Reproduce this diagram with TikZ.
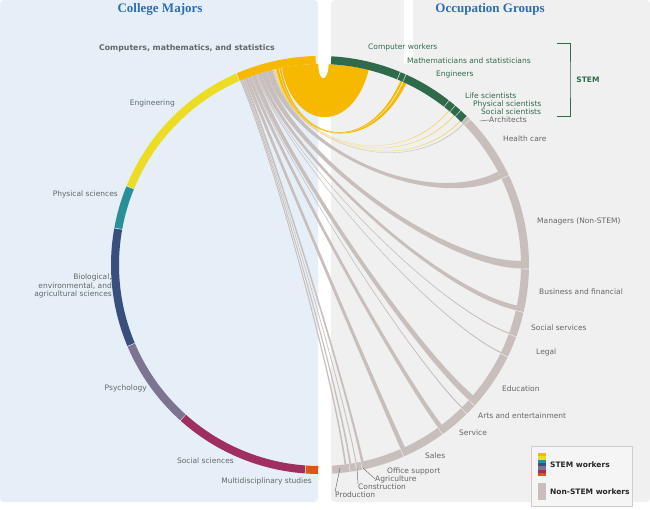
\documentclass[tikz,border=0pt]{standalone}
\usepackage{fontspec}
\setmainfont{DejaVu Sans}
\newfontfamily\hdfont{Liberation Serif}
\begin{document}
\begin{tikzpicture}[x=1pt,y=1pt,
  lab/.style={font=\fontsize{7.5}{8.6}\selectfont, text=black!60, inner sep=0pt},
  slab/.style={font=\fontsize{7.5}{8.6}\selectfont, text=stemg, inner sep=0pt},
  hd/.style={font=\hdfont\bfseries\fontsize{13}{14}\selectfont, text=hdblue, inner sep=0pt},
  seg/.style={line width=8pt},
  lead/.style={draw=black!55, line width=0.5pt}]
\definecolor{hdblue}{HTML}{2E6DB4}
\definecolor{stemg}{HTML}{2F6B4A}
\definecolor{gch}{HTML}{C8BFBC}
\definecolor{cyel}{HTML}{F7B800}
\definecolor{ceng}{HTML}{ECDD24}
\definecolor{cphy}{HTML}{2A9098}
\definecolor{cbio}{HTML}{3B4F7D}
\definecolor{cpsy}{HTML}{7C7490}
\definecolor{csoc}{HTML}{9E2F5E}
\definecolor{cmul}{HTML}{E2540F}
\definecolor{lyel}{HTML}{F5D35A}
\definecolor{lpan}{HTML}{E6EFF8}
\useasboundingbox (0,0) rectangle (650,509);
\fill[white] (0,0) rectangle (650,509);
\fill[lpan, rounded corners=4pt] (0,7) rectangle (318,509);
\fill[black!6, rounded corners=4pt] (331,7) rectangle (650,509);
\node[hd] (hmaj) at (160,500) {College Majors};
\node[hd] (hocc) at (490,500) {Occupation Groups};
\newcommand\chd[5]{\fill[#5] (#1:201) arc[start angle=#1,end angle=#2,radius=201] .. controls (#2:120) and (#3:120) .. (#3:201) arc[start angle=#3,end angle=#4,radius=201] .. controls (#4:120) and (#1:120) .. cycle;}
\begin{scope}[shift={(320,244)}]
% big self-adjacent chord
\fill[cyel] (90.5:201) arc[start angle=90.5,end angle=101,radius=201] .. controls (101:135) and (76:135) .. (76:201) arc[start angle=76,end angle=87.5,radius=201] .. controls (87.5:182) and (90.5:182) .. cycle;
\fill[white] (89:201) circle[radius=5];
\fill[white] (84,201) rectangle (92.5,270);
% chords
\chd{101.2}{101.7}{65.8}{66.4}{cyel}
\chd{101.9}{102.6}{64.6}{65.5}{cyel}
\chd{102.7}{102.85}{50}{50.2}{lyel}
\chd{102.95}{103.1}{48}{48.2}{lyel}
\chd{103.2}{103.35}{45.6}{45.8}{lyel}
\chd{103.45}{103.6}{44.4}{44.6}{gch}
\chd{103.7}{105.3}{25.5}{27.7}{gch}
\chd{105.35}{106.95}{-1}{1.2}{gch}
\chd{107}{108}{-13}{-11.6}{gch}
\chd{108.05}{108.25}{-20}{-19.7}{gch}
\chd{108.3}{108.5}{-26}{-25.7}{gch}
\chd{108.55}{109.8}{-42.2}{-40.4}{gch}
\chd{109.85}{110.05}{-45.3}{-45.0}{gch}
\chd{110.1}{111}{-54}{-52.7}{gch}
\chd{111.05}{111.95}{-66.3}{-65}{gch}
\chd{112}{112.5}{-78.2}{-77.5}{gch}
\chd{112.55}{112.75}{-79.8}{-79.5}{gch}
\chd{112.8}{113.1}{-81.6}{-81.1}{gch}
\chd{113.15}{113.45}{-83}{-82.5}{gch}
% left ring
\draw[seg,cyel] (91.2:205) arc[start angle=91.2,end angle=113.5,radius=205];
\draw[seg,ceng] (113.7:205) arc[start angle=113.7,end angle=157.7,radius=205];
\draw[seg,cphy] (157.9:205) arc[start angle=157.9,end angle=169.7,radius=205];
\draw[seg,cbio] (169.9:205) arc[start angle=169.9,end angle=202.8,radius=205];
\draw[seg,cpsy] (203:205) arc[start angle=203,end angle=228,radius=205];
\draw[seg,csoc] (228.2:205) arc[start angle=228.2,end angle=265.8,radius=205];
\draw[seg,cmul] (266:205) arc[start angle=266,end angle=269.5,radius=205];
% right ring
\draw[seg,stemg] (86.9:205) arc[start angle=86.9,end angle=67.5,radius=205];
\draw[seg,stemg] (67.3:205) arc[start angle=67.3,end angle=65.8,radius=205];
\draw[seg,stemg] (65.6:205) arc[start angle=65.6,end angle=52,radius=205];
\draw[seg,stemg] (51.8:205) arc[start angle=51.8,end angle=49.8,radius=205];
\draw[seg,stemg] (49.6:205) arc[start angle=49.6,end angle=47.8,radius=205];
\draw[seg,stemg] (47.6:205) arc[start angle=47.6,end angle=45.4,radius=205];
\draw[seg,gch] (45.2:205) arc[start angle=45.2,end angle=44.2,radius=205];
\foreach \a/\b in {44/25.5, 25.3/-1, -1.2/-13, -13.2/-20, -20.2/-26, -26.2/-42.2, -42.4/-45.3, -45.5/-54, -54.2/-66.3, -66.5/-78.2, -78.4/-79.8, -80/-81.6, -81.8/-86.6}
  \draw[seg,gch] (\a:205) arc[start angle=\a,end angle=\b,radius=205];
\end{scope}
% left labels
\node[lab, font=\bfseries\fontsize{7.8}{9}\selectfont] (lcms) at (187,461) {Computers, mathematics, and statistics};
\node[lab, anchor=east] (leng) at (175,406) {Engineering};
\node[lab, anchor=east] (lphy) at (118,315) {Physical sciences};
\node[lab, anchor=east, align=right] (lbio) at (112,223) {Biological,\\environmental, and\\agricultural  sciences};
\node[lab, anchor=east] (lpsy) at (147,121) {Psychology};
\node[lab, anchor=east] (lsoc) at (234,48) {Social sciences};
\node[lab, anchor=east] (lmul) at (312,28) {Multidisciplinary studies};
% right labels
\node[slab, anchor=west] (ocw) at (368,462) {Computer workers};
\node[slab, anchor=west] (oms) at (407,448) {Mathematicians and statisticians};
\node[slab, anchor=west] (oen) at (436,435) {Engineers};
\node[slab, anchor=west] (ols) at (465,413) {Life scientists};
\node[slab, anchor=west] (ops) at (473,405) {Physical scientists};
\node[slab, anchor=west] (oss) at (481,397) {Social scientists};
\node[lab, anchor=west] (oar) at (489,389) {Architects};
\coordinate (car) at (480,388);
\draw[lead] (car) -- (oar.west);
\node[lab, anchor=west] (ohc) at (503,370) {Health care};
\node[lab, anchor=west] (omg) at (537,288) {Managers (Non-STEM)};
\node[lab, anchor=west] (obf) at (539,217) {Business and financial};
\node[lab, anchor=west] (oso) at (531,181) {Social services};
\node[lab, anchor=west] (olg) at (536,157) {Legal};
\node[lab, anchor=west] (oed) at (502,120) {Education};
\node[lab, anchor=west] (oae) at (478,93) {Arts and entertainment};
\node[lab, anchor=west] (osv) at (459,76) {Service};
\node[lab, anchor=west] (osa) at (425,53) {Sales};
\node[lab, anchor=west] (oof) at (387,38) {Office support};
\node[lab, anchor=west] (oag) at (375,30) {Agriculture};
\node[lab, anchor=west] (ocn) at (358,22) {Construction};
\node[lab, anchor=west] (opr) at (335,14) {Production};
\coordinate (cag) at (363,41);
\coordinate (ccn) at (357,41);
\coordinate (cpr) at (340,41);
\draw[lead] (cag) -- (oag.west);
\draw[lead] (ccn) -- (ocn.north west);
\draw[lead] (cpr) -- (opr.north west);
% STEM bracket
\coordinate (b1) at (557,466);
\coordinate (b2) at (557,393);
\draw[stemg, line width=0.8pt] (b1) -| (570,429.5) |- (b2);
\node[slab, font=\bfseries\fontsize{7.5}{8.6}\selectfont] (ostem) at (588,429) {STEM};
% legend
\node[draw=black!20, fill=black!4, minimum width=101pt, minimum height=60pt, inner sep=0pt] (leg) at (581.5,33) {};
\foreach \c [count=\i] in {cyel,ceng,cphy,cbio,cpsy,csoc,cmul}
  \fill[\c] (538,{56-\i*3.3}) rectangle (546,{56-\i*3.3+3.3});
\fill[gch] (538,9) rectangle (546,26);
\node[anchor=west, inner sep=0pt, font=\bfseries\fontsize{7.5}{8.6}\selectfont, text=black!85] (lst) at (550,44) {STEM workers};
\node[anchor=west, inner sep=0pt, font=\bfseries\fontsize{7.5}{8.6}\selectfont, text=black!85] (lns) at (550,17) {Non-STEM workers};
\end{tikzpicture}
\end{document}
